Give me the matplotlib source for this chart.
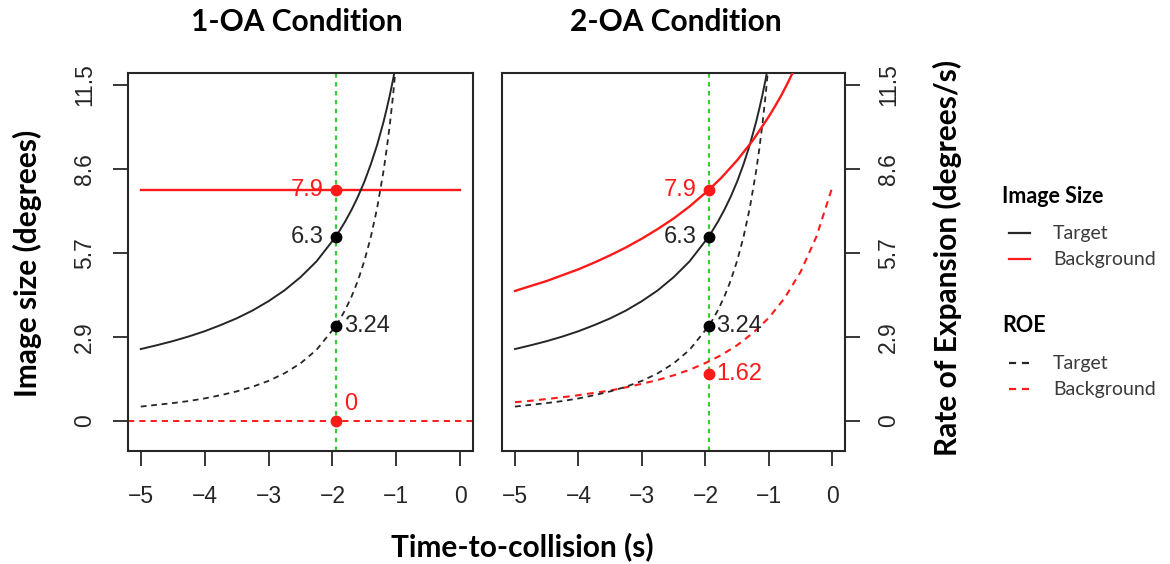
import matplotlib
matplotlib.use("Agg")
import matplotlib.pyplot as plt
from matplotlib.lines import Line2D

# ---------------------------------------------------------------- data
# time-to-collision samples (s)
t_target = [-5.0, -4.75, -4.5, -4.25, -4.0, -3.75, -3.5, -3.25, -3.0, -2.75,
            -2.5, -2.25, -1.95, -1.9, -1.8, -1.7, -1.6, -1.5, -1.4, -1.3,
            -1.2, -1.15, -1.1, -1.05, -1.0]
# target image size (degrees)
target_size = [2.46, 2.59, 2.73, 2.89, 3.07, 3.28, 3.51, 3.78, 4.10, 4.47,
               4.92, 5.46, 6.30, 6.47, 6.83, 7.23, 7.68, 8.19, 8.78, 9.45,
               10.24, 10.69, 11.17, 11.70, 12.29]
# target rate of expansion (degrees/s)
target_roe = [0.49, 0.55, 0.61, 0.68, 0.77, 0.88, 1.01, 1.17, 1.37, 1.63,
              1.97, 2.43, 3.24, 3.41, 3.80, 4.26, 4.81, 5.48, 6.29, 7.29,
              8.56, 9.32, 10.18, 11.17, 12.32]

# 1-OA: static background
t_bg_static = [-5.0, 0.0]
bg_size_static = [7.9, 7.9]
bg_roe_static = 0.0

# 2-OA: approaching background
t_bg_size = [-5.0, -4.75, -4.5, -4.25, -4.0, -3.75, -3.5, -3.25, -3.0, -2.75,
             -2.5, -2.25, -1.95, -1.75, -1.5, -1.25, -1.0, -0.9, -0.8, -0.7, -0.6]
bg_size = [4.45, 4.62, 4.79, 4.99, 5.19, 5.42, 5.67, 5.94, 6.24, 6.57,
           6.93, 7.34, 7.90, 8.32, 8.92, 9.61, 10.42, 10.78, 11.16, 11.58, 12.03]
t_bg_roe = [-5.0, -4.75, -4.5, -4.25, -4.0, -3.75, -3.5, -3.25, -3.0, -2.75,
            -2.5, -2.25, -2.0, -1.75, -1.5, -1.25, -1.0, -0.75, -0.5, -0.25, 0.0]
bg_roe = [0.64, 0.69, 0.75, 0.81, 0.88, 0.96, 1.04, 1.15, 1.27, 1.40,
          1.56, 1.75, 1.98, 2.25, 2.59, 3.01, 3.53, 4.21, 5.10, 6.31, 8.00]

# values marked at the reference time
t_mark = -1.95
mark_target_size = 6.3
mark_target_roe = 3.24
mark_bg_size = 7.9
mark_bg_roe_1oa = 0
mark_bg_roe_2oa = 1.62

x_ticks = [-5, -4, -3, -2, -1, 0]
y_ticks = [0, 2.875, 5.75, 8.625, 11.5]
y_tick_labels = ["0", "2.9", "5.7", "8.6", "11.5"]
titles = ["1-OA Condition", "2-OA Condition"]

# ---------------------------------------------------------------- style
W, H = 1170, 564
BLACK = "#262626"
RED = "#ff1a1a"
GREEN = "#38cc38"
NUM_FONT = "Liberation Sans"
LAB_FONT = "Lato"
NUM_SIZE = 16.5
LAB_SIZE = 21.5

fig = plt.figure(figsize=(W / 100, H / 100), dpi=100)


def fx(px):
    return px / W


def fy(py):
    return 1 - py / H


ax_bottom, ax_top = 450.7, 72.7
ax1 = fig.add_axes([fx(128), fy(ax_bottom), (473 - 128) / W, (ax_bottom - ax_top) / H])
ax2 = fig.add_axes([fx(502.3), fy(ax_bottom), (845 - 502.3) / W, (ax_bottom - ax_top) / H])

dash = (0, (3.2, 2.6))
dot_green = (0, (2.0, 2.0))


def style_axes(ax, side):
    ax.set_xlim(-5.2, 0.2)
    ax.set_ylim(-1.02, 11.92)
    for sp in ax.spines.values():
        sp.set_linewidth(1.5)
        sp.set_color(BLACK)
    ax.set_xticks(x_ticks)
    ax.set_xticklabels([f"{v}".replace("-", "\u2212") for v in x_ticks],
                       fontfamily=NUM_FONT, fontsize=NUM_SIZE, color=BLACK)
    ax.tick_params(axis="x", direction="out", length=11, width=1.3,
                   color=BLACK, pad=14)
    ax.set_yticks(y_ticks)
    if side == "left":
        ax.yaxis.tick_left()
        ax.set_yticklabels(y_tick_labels, rotation=90, va="center", ha="right",
                           fontfamily=NUM_FONT, fontsize=NUM_SIZE, color=BLACK)
    else:
        ax.yaxis.tick_right()
        ax.set_yticklabels(y_tick_labels, rotation=90, va="center", ha="left",
                           fontfamily=NUM_FONT, fontsize=NUM_SIZE, color=BLACK)
    ax.tick_params(axis="y", direction="out", length=11, width=1.3,
                   color=BLACK, pad=12)


def label(ax, text, y, color, dx, dy=0, ha="right"):
    ax.annotate(text, (t_mark, y), xytext=(dx, dy), textcoords="offset pixels",
                ha=ha, va="center", color=color, fontfamily=NUM_FONT,
                fontsize=17, zorder=6)


# ---------------------------------------------------------------- 1-OA
style_axes(ax1, "left")
ax1.axvline(t_mark, color=GREEN, lw=1.6, linestyle=dot_green, zorder=1)
ax1.axhline(bg_roe_static, color=RED, lw=1.4, linestyle=dash, zorder=2)
ax1.plot(t_bg_static, bg_size_static, color=RED, lw=1.7, zorder=3)
ax1.plot(t_target, target_size, color=BLACK, lw=1.4, zorder=3)
ax1.plot(t_target, target_roe, color=BLACK, lw=1.3, linestyle=dash, zorder=3)
ax1.plot([t_mark, t_mark], [mark_bg_size, mark_bg_roe_1oa], "o", color=RED,
         ms=7.5, zorder=5, linestyle="none")
ax1.plot([t_mark, t_mark], [mark_target_size, mark_target_roe], "o",
         color="black", ms=7.5, zorder=5, linestyle="none")
label(ax1, f"{mark_bg_size}", mark_bg_size, RED, -12)
label(ax1, f"{mark_target_size}", mark_target_size, BLACK, -12)
label(ax1, f"{mark_target_roe}", mark_target_roe, BLACK, 8, ha="left")
label(ax1, f"{mark_bg_roe_1oa}", mark_bg_roe_1oa, RED, 8, 17, ha="left")

# ---------------------------------------------------------------- 2-OA
style_axes(ax2, "right")
ax2.axvline(t_mark, color=GREEN, lw=1.6, linestyle=dot_green, zorder=1)
ax2.plot(t_bg_roe, bg_roe, color=RED, lw=1.5, linestyle=dash, zorder=3)
ax2.plot(t_target, target_roe, color=BLACK, lw=1.3, linestyle=dash, zorder=3)
ax2.plot(t_target, target_size, color=BLACK, lw=1.4, zorder=3)
ax2.plot(t_bg_size, bg_size, color=RED, lw=1.7, zorder=3)
ax2.plot([t_mark, t_mark], [mark_bg_size, mark_bg_roe_2oa], "o", color=RED,
         ms=7.5, zorder=5, linestyle="none")
ax2.plot([t_mark, t_mark], [mark_target_size, mark_target_roe], "o",
         color="black", ms=7.5, zorder=5, linestyle="none")
label(ax2, f"{mark_bg_size}", mark_bg_size, RED, -12)
label(ax2, f"{mark_target_size}", mark_target_size, BLACK, -12)
label(ax2, f"{mark_target_roe}", mark_target_roe, BLACK, 8, ha="left")
label(ax2, f"{mark_bg_roe_2oa}", mark_bg_roe_2oa, RED, 8, ha="left")

# ---------------------------------------------------------------- titles and axis labels
bold = dict(fontfamily=LAB_FONT, fontweight="bold", color="black")
fig.text(fx(297), fy(22), titles[0], ha="center", va="center", fontsize=LAB_SIZE, **bold)
fig.text(fx(676), fy(22), titles[1], ha="center", va="center", fontsize=LAB_SIZE, **bold)
fig.text(fx(522), fy(547), "Time-to-collision (s)", ha="center", va="center",
         fontsize=LAB_SIZE, **bold)
fig.text(fx(27), fy(263), "Image size (degrees)", ha="center", va="center",
         rotation=90, fontsize=LAB_SIZE, **bold)
fig.text(fx(947), fy(258), "Rate of Expansion (degrees/s)", ha="center",
         va="center", rotation=90, fontsize=LAB_SIZE, **bold)

# ---------------------------------------------------------------- key
key_groups = [
    ("Image Size", 197, [("Target", 233, BLACK, "-"), ("Background", 259, RED, "-")]),
    ("ROE", 325, [("Target", 363, BLACK, dash), ("Background", 389, RED, dash)]),
]
for head, hy, entries in key_groups:
    fig.text(fx(1002), fy(hy), head, ha="left", va="center", fontsize=15.5, **bold)
    for name, ey, col, ls in entries:
        fig.add_artist(Line2D([fx(1009), fx(1030)], [fy(ey), fy(ey)],
                              transform=fig.transFigure, color=col, lw=1.6,
                              linestyle=ls))
        fig.text(fx(1053), fy(ey), name, ha="left", va="center", fontsize=14,
                 fontfamily=LAB_FONT, color="#3a3a3a")

fig.savefig("out.png", dpi=100, facecolor="white")
